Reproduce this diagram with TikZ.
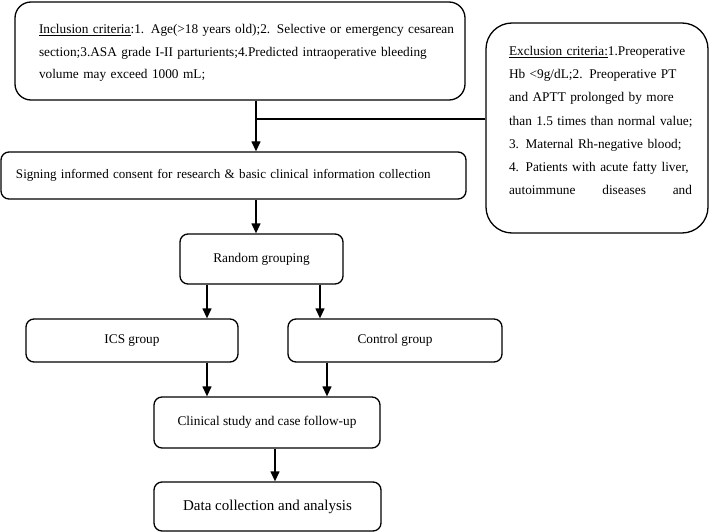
\documentclass[tikz,border=0pt]{standalone}
\usepackage{fontspec}
\setmainfont{Liberation Serif}
\usetikzlibrary{arrows.meta}
\begin{document}
\begin{tikzpicture}[x=1pt,y=-1pt,
  box/.style={draw,line width=1.3pt,rounded corners=8pt,inner sep=0pt},
  arr/.style={line width=1.3pt,-{Triangle[length=10pt,width=9pt]}},
  ln/.style={line width=1.3pt},
  txt/.style={font=\fontsize{13.3}{23.2}\selectfont,inner sep=0pt},
  mid/.style={font=\fontsize{13.3}{16}\selectfont},
  big/.style={font=\fontsize{15}{18}\selectfont}]
\useasboundingbox (0,0) rectangle (710,532);
% boxes
\node[box,rounded corners=16pt,minimum width=450,minimum height=98] (inc) at (240,51) {};
\node[box,rounded corners=26pt,minimum width=222,minimum height=210] (exc) at (597,128) {};
\node[box,font=\fontsize{13.05}{16}\selectfont,minimum height=47,text width=435pt,inner xsep=15pt,align=left] (sign) at (233.5,175.5)
  {Signing informed consent for research \& basic clinical information collection};
\node[box,mid,minimum width=163,minimum height=50] (rand) at (261.5,259) {Random grouping};
\node[box,mid,minimum width=212,minimum height=43] (ics) at (132,340.5) {ICS group};
\node[box,mid,minimum width=214,minimum height=43] (ctrl) at (395,340.5) {Control group};
\node[box,mid,minimum width=226,minimum height=51] (clin) at (267,422.5) {Clinical study and case follow-up};
\node[box,big,minimum width=227,minimum height=49] (data) at (267.5,506.5) {Data collection and analysis};
% criteria texts
\node[txt,font=\fontsize{13.3}{22.6}\selectfont,text width=417pt,align=left] (inct) at (247.5,53) {%
\makebox[417pt][s]{\underline{Inclusion criteria}:1. Age(>18 years old);2. Selective or emergency cesarean}\\
\makebox[417pt][s]{section;3.ASA grade I-II parturients;4.Predicted intraoperative bleeding}\\
volume may exceed 1000 mL;};
\node[txt,text width=183pt,align=left] (exct) at (600.5,120.5) {%
\makebox[183pt][s]{\underline{Exclusion criteria:}1.Preoperative}\\
\makebox[183pt][s]{Hb <9g/dL;2. Preoperative PT}\\
\makebox[183pt][s]{and APTT prolonged by more}\\
\makebox[183pt][s]{than 1.5 times than normal value;}\\
\makebox[183pt][s]{3. Maternal Rh-negative blood;}\\
\makebox[183pt][s]{4. Patients with acute fatty liver,}\\
\makebox[183pt][l]{autoimmune\hspace{\fill}diseases\hspace{\fill}and}};
% connector columns
\coordinate (j) at (256,119);
\coordinate (c1) at (207,0);
\coordinate (c2) at (320,0);
\coordinate (c3) at (327,0);
\coordinate (c4) at (275,0);
% connectors
\draw[ln] (exc.west |- j) -- (j);
\draw[arr] (inc.south -| j) -- (sign.north -| j);
\draw[arr] (sign.south -| j) -- (rand.north -| j);
\draw[arr] (rand.south -| c1) -- (ics.north -| c1);
\draw[arr] (rand.south -| c2) -- (ctrl.north -| c2);
\draw[arr] (ics.south -| c1) -- (clin.north -| c1);
\draw[arr] (ctrl.south -| c3) -- (clin.north -| c3);
\draw[arr] (clin.south -| c4) -- (data.north -| c4);
\end{tikzpicture}
\end{document}
